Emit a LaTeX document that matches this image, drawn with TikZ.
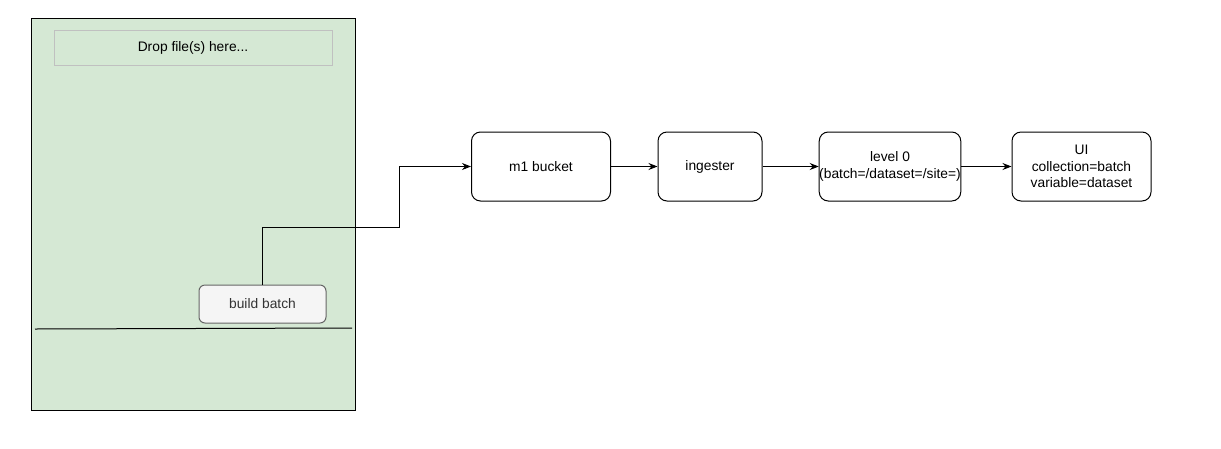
\documentclass[tikz,border=0pt]{standalone}
\usepackage{fontspec}
\setmainfont{Liberation Sans}
\usetikzlibrary{arrows.meta}
\definecolor{panelgreen}{HTML}{D5E8D4}
\definecolor{dropgray}{HTML}{C0C0C0}
\definecolor{bbfill}{HTML}{F5F5F5}
\definecolor{bbstroke}{HTML}{666666}
\definecolor{bbtext}{HTML}{333333}
\begin{document}
\begin{tikzpicture}[x=1pt,y=-1pt,
  every node/.style={font=\fontsize{13.8}{16.5}\selectfont},
  procbox/.style={draw=black, line width=1pt, rounded corners=9pt, align=center, inner sep=0pt},
  flow/.style={draw=black, line width=1pt, -{Stealth[length=9pt,width=7pt]}}]
\useasboundingbox (0,0) rectangle (1221,448);
% panel
\node[draw=black, fill=panelgreen, line width=1pt, minimum width=324pt, minimum height=392pt, inner sep=0pt] (panel) at (193,214) {};
\node[draw=dropgray, fill=panelgreen, line width=1pt, minimum width=278pt, minimum height=35pt, inner sep=0pt] (drop) at (193,47.5) {Drop file(s) here...};
\coordinate (divl) at (35,329);
\coordinate (divr) at (352,328);
\draw[line width=1pt] (divl) -- (divr);
\node[draw=bbstroke, fill=bbfill, line width=1pt, rounded corners=6pt, minimum width=127pt, minimum height=38pt, inner sep=0pt, text=bbtext] (bb) at (262.5,304) {build batch};
% pipeline
\node[procbox, minimum width=139pt, minimum height=69pt] (m1) at (541,166.5) {m1 bucket};
\node[procbox, minimum width=104pt, minimum height=69pt] (ing) at (710,166.5) {ingester};
\node[procbox, minimum width=140pt, minimum height=69pt] (lv) at (890,166.5) {level 0\\(batch=/dataset=/site=)};
\node[procbox, minimum width=139pt, minimum height=69pt] (ui) at (1081.5,166.5) {UI\\collection=batch\\variable=dataset};
\draw[flow] (bb.north) -- (bb.north |- 0,227.5) -- (399.5,227.5) -- (399.5,166.5) -- (m1.west);
\draw[flow] (m1) -- (ing);
\draw[flow] (ing) -- (lv);
\draw[flow] (lv) -- (ui);
\end{tikzpicture}
\end{document}
